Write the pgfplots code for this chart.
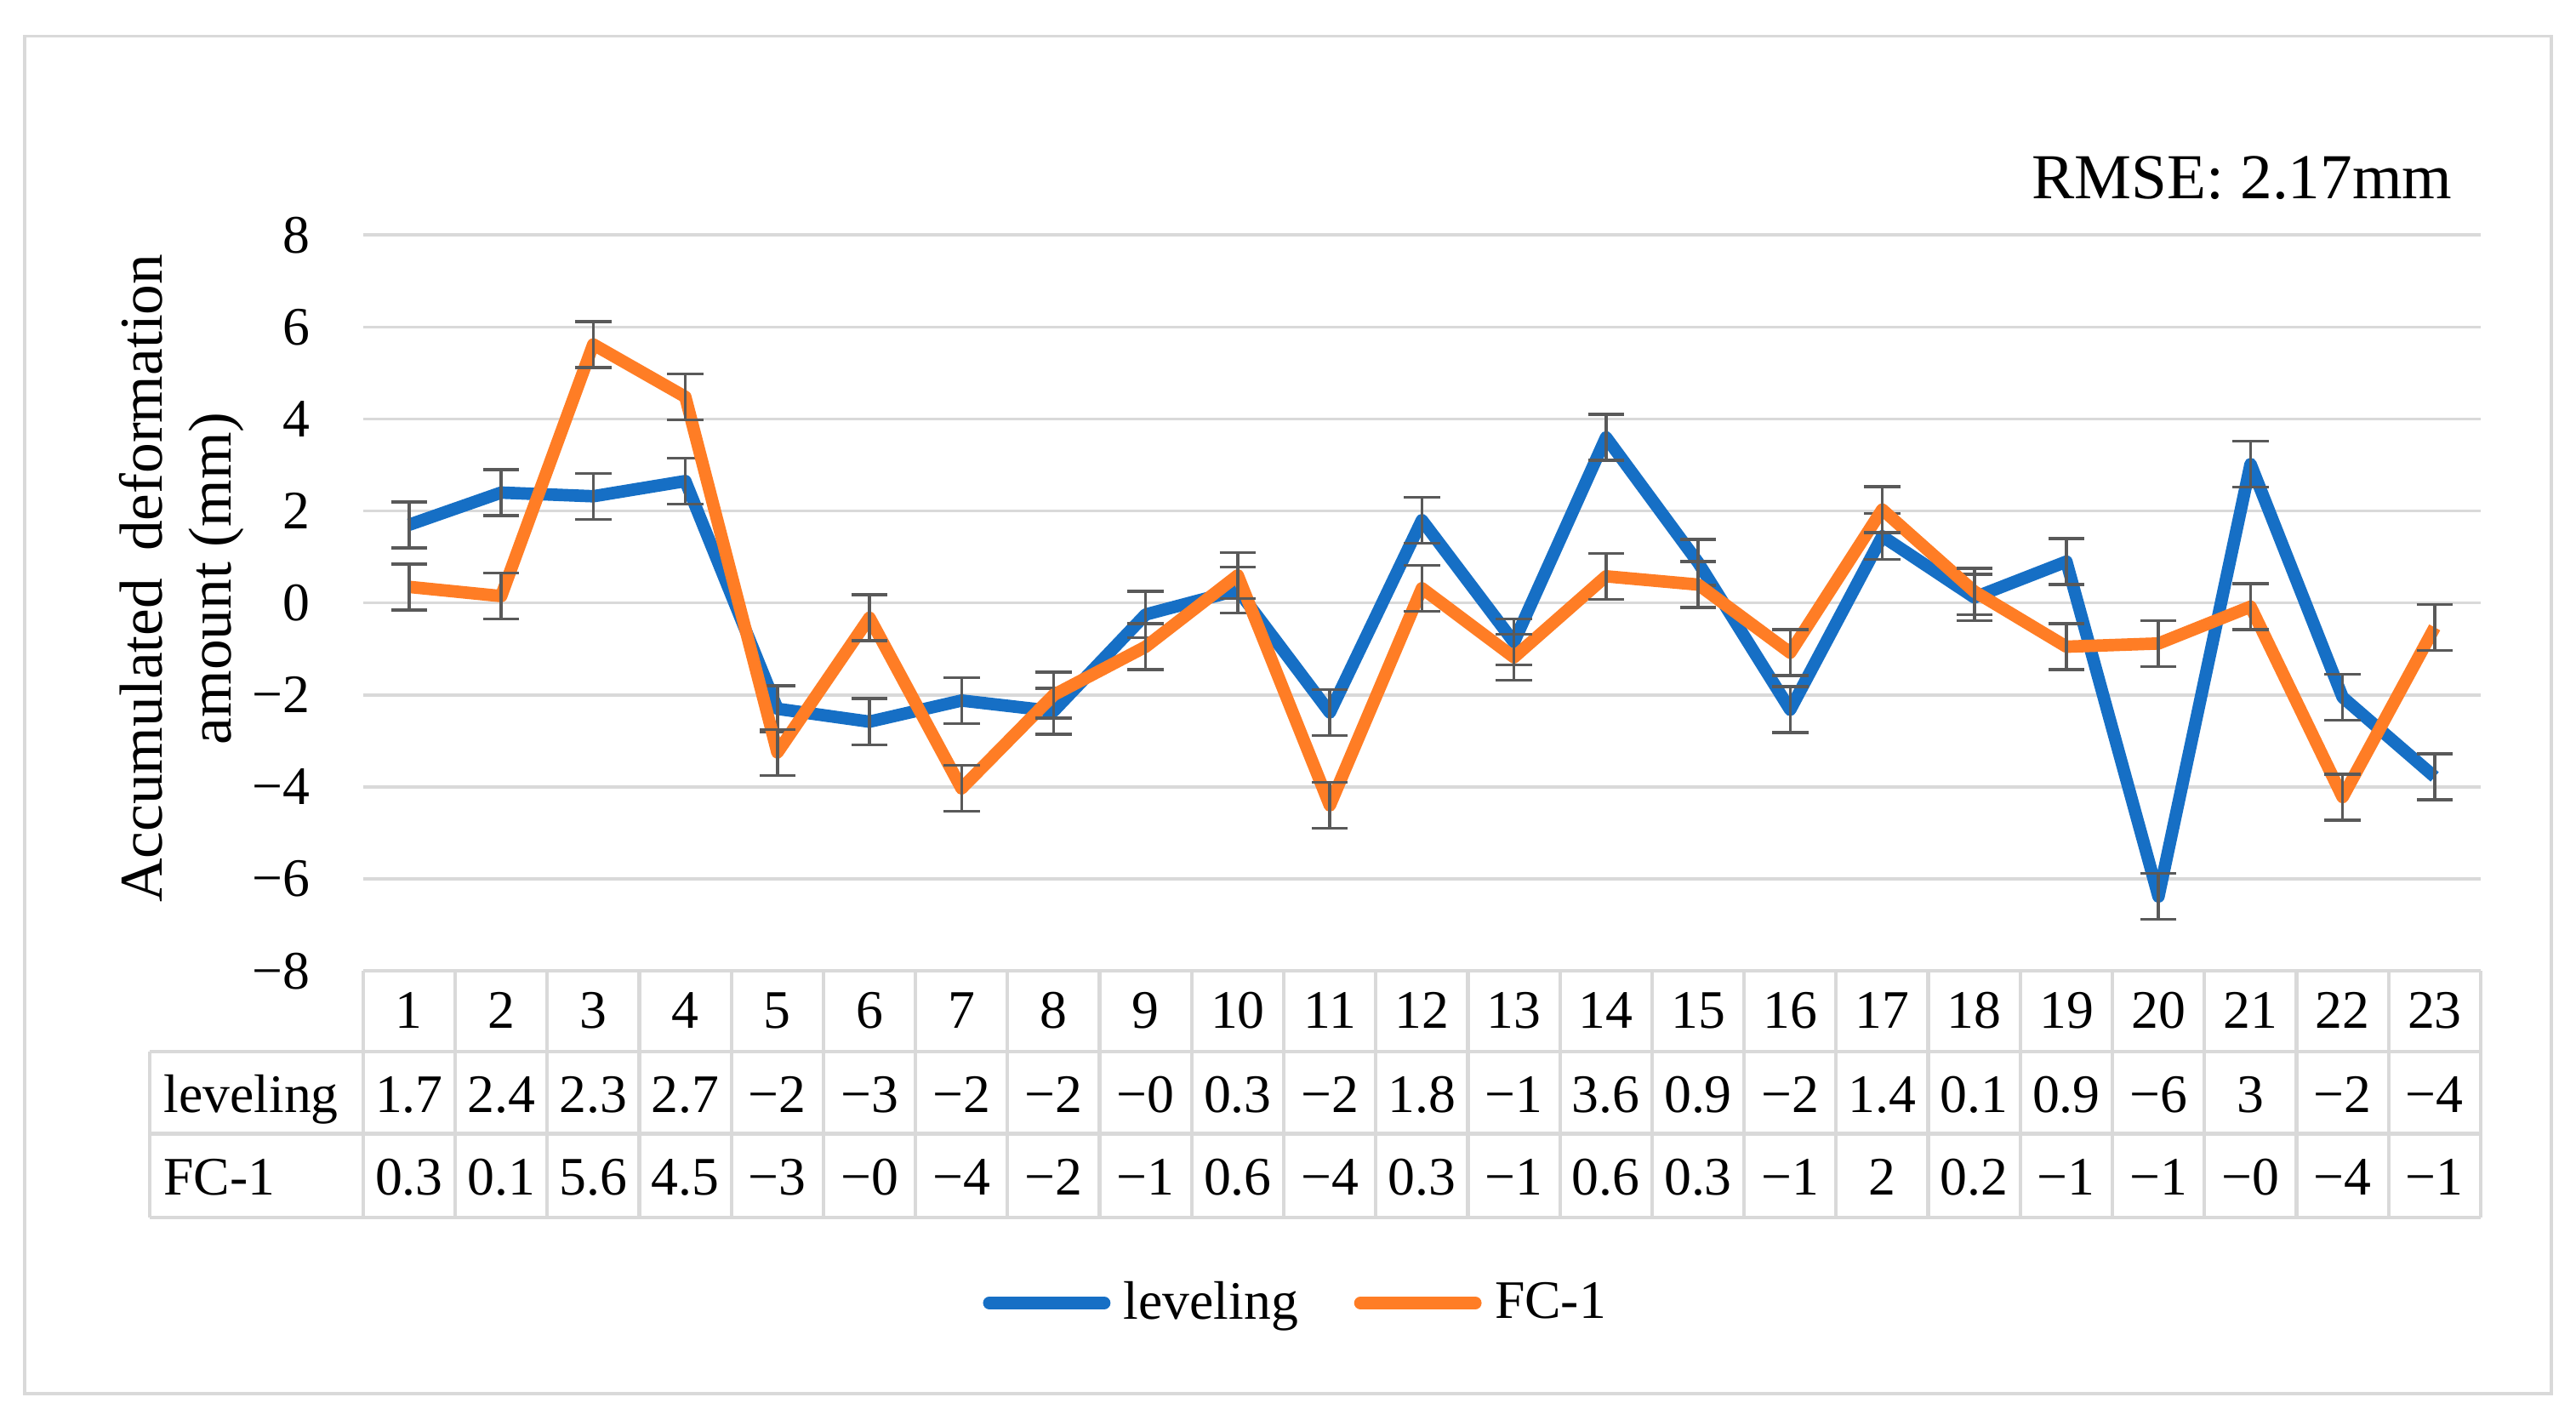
\documentclass[border=0pt]{standalone}
\usepackage{fontspec}
\setmainfont{Liberation Serif}
\usepackage{pgfplots}
\usepackage{pgfplotstable}
\pgfplotsset{compat=1.18}

\definecolor{lvblue}{RGB}{22,111,197}
\definecolor{fcorange}{RGB}{255,125,37}
\definecolor{gridgray}{RGB}{217,217,217}
\definecolor{errgray}{RGB}{89,89,89}

% accumulated deformation (mm), 23 points
\pgfplotstableread{
x y
1 1.70
2 2.40
3 2.32
4 2.65
5 -2.30
6 -2.58
7 -2.12
8 -2.35
9 -0.25
10 0.28
11 -2.38
12 1.80
13 -0.85
14 3.60
15 0.88
16 -2.32
17 1.45
18 0.12
19 0.90
20 -6.38
21 3.02
22 -2.05
23 -3.78
}\leveling

\pgfplotstableread{
x y
1 0.35
2 0.15
3 5.62
4 4.48
5 -3.25
6 -0.32
7 -4.03
8 -2.00
9 -0.95
10 0.60
11 -4.40
12 0.32
13 -1.18
14 0.58
15 0.40
16 -1.08
17 2.03
18 0.25
19 -0.95
20 -0.88
21 -0.08
22 -4.22
23 -0.53
}\fcone

\newcommand\smallfont{\fontsize{16.5}{18}\selectfont}

\begin{document}
\begin{tikzpicture}
\path[use as bounding box] (0,0) rectangle (784pt,432pt);
\draw[gridgray, line width=1pt] (7.5pt,8pt) rectangle (776.5pt,421pt);

\begin{axis}[
  at={(110.5pt,136.5pt)}, anchor=south west,
  scale only axis, width=644.5pt, height=224pt,
  xmin=0.5, xmax=23.5, ymin=-8, ymax=8,
  xtick={1,2,3,4,5,6,7,8,9,10,11,12,13,14,15,16,17,18,19,20,21,22,23},
  xticklabels={1,2,3,4,5,6,7,8,9,10,11,12,13,14,15,16,17,18,19,20,21,22,23},
  ytick={-8,-6,-4,-2,0,2,4,6,8},
  yticklabels={−8,−6,−4,−2,0,2,4,6,8},
  axis line style={draw=none},
  major tick length=0pt,
  ymajorgrids, grid style={gridgray, line width=0.9pt},
  tick label style={font=\smallfont, inner sep=0pt},
  xticklabel style={anchor=center, yshift=-12pt},
  yticklabel style={anchor=east, xshift=-16pt},
  clip=false,
  ylabel={Accumulated\hspace{0.45em}deformation\\amount (mm)},
  ylabel style={at={(axis description cs:-0.0857,0.5335)}, anchor=center,
    align=center, rotate=0, font=\fontsize{18.5}{21}\selectfont},
  legend style={at={(0.4399,-0.4509)}, anchor=center, draw=none, fill=none,
    font=\smallfont, column sep=4pt, nodes={inner sep=0pt},
    /tikz/every even column/.append style={column sep=17pt}},
  legend columns=2,
  legend image code/.code={\draw[#1, line cap=round] (0pt,0pt) -- (35pt,0pt);},
]
\addplot[lvblue, line width=3.8pt, line join=round,
  error bars/.cd, y dir=both, y fixed=0.5,
  error bar style={errgray, line width=0.9pt},
  error mark options={errgray, line width=0.9pt, mark size=5.5pt, rotate=90}]
  table {\leveling};
\addplot[fcorange, line width=3.8pt, line join=round,
  error bars/.cd, y dir=both, y fixed=0.5,
  error bar style={errgray, line width=0.9pt},
  error mark options={errgray, line width=0.9pt, mark size=5.5pt, rotate=90}]
  table {\fcone};
\legend{leveling, FC-1}
\end{axis}

% data table below the plot, in picture pixels
\begin{scope}[x=0.5pt, y=-0.5pt, yshift=432pt]
  \draw[gridgray, line width=1.1pt]
    (221,591) -- (1510,591)
    (91,640) -- (1510,640)
    (91,690) -- (1510,690)
    (91,741) -- (1510,741)
    (91,640) -- (91,741);
  \foreach \k in {0,...,23}
    \draw[gridgray, line width=1.1pt] ({221+\k*56.04},591) -- ({221+\k*56.04},741);
  \node[anchor=base west, inner sep=0pt, font=\smallfont] at (99.3,677) {leveling};
  \node[anchor=base west, inner sep=0pt, font=\smallfont] at (99.3,727.5) {FC-1};
  \foreach \v [count=\i] in {1.7,2.4,2.3,2.7,−2,−3,−2,−2,−0,0.3,−2,1.8,−1,3.6,0.9,−2,1.4,0.1,0.9,−6,3,−2,−4}
    \node[anchor=base, inner sep=0pt, font=\smallfont] at ({221+(\i-0.5)*56.04},677) {\v};
  \foreach \v [count=\i] in {0.3,0.1,5.6,4.5,−3,−0,−4,−2,−1,0.6,−4,0.3,−1,0.6,0.3,−1,2,0.2,−1,−1,−0,−4,−1}
    \node[anchor=base, inner sep=0pt, font=\smallfont] at ({221+(\i-0.5)*56.04},727.5) {\v};
  \node[anchor=base east, inner sep=0pt, font=\fontsize{19.5}{22}\selectfont] at (1493,121) {RMSE: 2.17mm};
\end{scope}
\end{tikzpicture}
\end{document}
